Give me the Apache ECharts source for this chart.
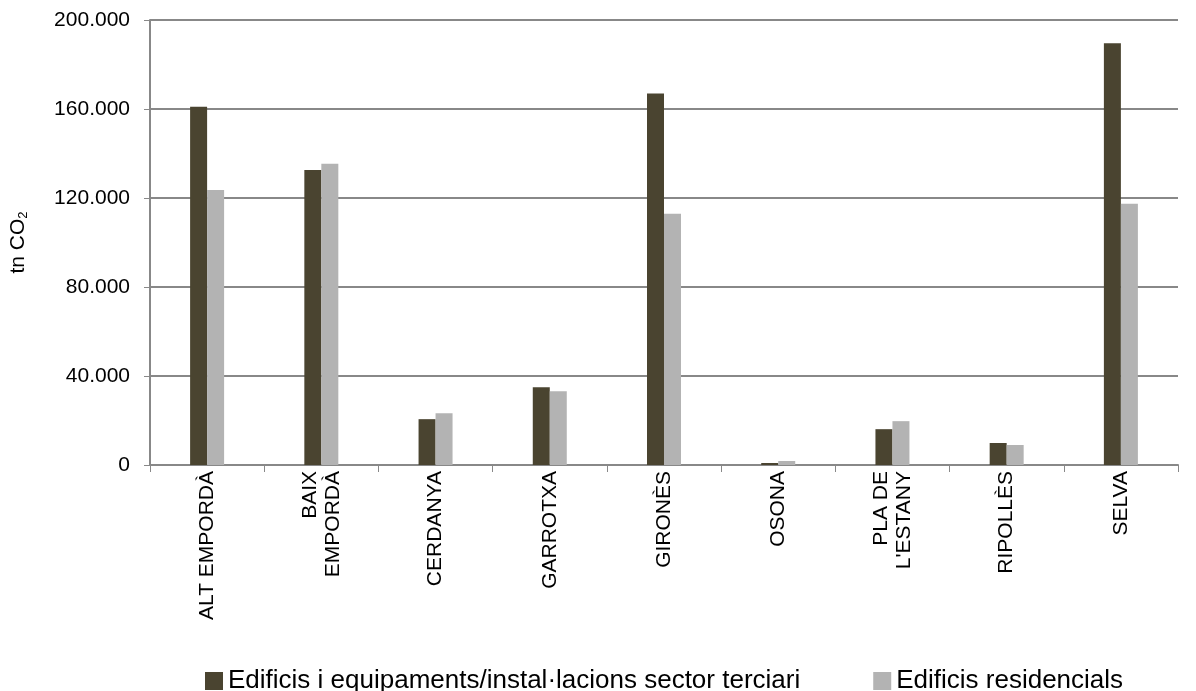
<!DOCTYPE html>
<html><head><meta charset="utf-8">
<script src="https://cdn.jsdelivr.net/npm/echarts@6/dist/echarts.min.js"></script>
<style>html,body{margin:0;padding:0;background:#fff}#c{width:1196px;height:691px}</style>
</head><body><div id="c"></div>
<script>
const categories = ["ALT EMPORDÀ","BAIX\nEMPORDÀ","CERDANYA","GARROTXA","GIRONÈS","OSONA","PLA DE\nL'ESTANY","RIPOLLÈS","SELVA"];
const terciari = [161000,132600,20600,34900,167000,900,16100,9900,189500];
const residencials = [123600,135400,23300,33100,112900,1800,19700,9000,117400];
const yTicks = [0,40000,80000,120000,160000,200000];
const seriesNames = ["Edificis i equipaments/instal·lacions sector terciari","Edificis residencials"];

const chart = echarts.init(document.getElementById('c'));
const font = "'Liberation Sans', Arial, sans-serif";
chart.setOption({
  animation:false,
  grid:{left:143,right:18,top:20,bottom:226,containLabel:false},
  legend:{
    top:663,left:200,itemWidth:18,itemHeight:18,itemGap:73,itemTextGap:5,icon:'rect',
    textStyle:{fontFamily:font,fontSize:26,color:'#000'},
    data:seriesNames
  },
  xAxis:{
    type:'category',data:categories,
    axisLine:{lineStyle:{color:'#888',width:2}},
    axisTick:{show:true,length:7,lineStyle:{color:'#888',width:1}},
    axisLabel:{rotate:90,fontFamily:font,fontSize:21,color:'#000',margin:6,lineHeight:23,interval:0}
  },
  yAxis:{
    type:'value',min:0,max:200000,interval:40000,
    name:'tn CO{sub|2}',nameLocation:'middle',nameGap:120,nameRotate:90,
    nameTextStyle:{fontFamily:font,fontSize:21,color:'#000',rich:{sub:{fontSize:13,verticalAlign:'bottom',padding:[10,0,0,0],fontFamily:font,color:'#000'}}},
    axisLine:{show:true,lineStyle:{color:'#888',width:2}},
    axisTick:{show:true,length:6,lineStyle:{color:'#888'}},
    splitLine:{lineStyle:{color:'#888',width:2}},
    axisLabel:{fontFamily:font,fontSize:21,color:'#000',margin:20,
      formatter:v=>yTicks.includes(v)?(v===0?'0':(v/1000).toFixed(0)+'.000'):''}
  },
  series:[
    {name:seriesNames[0],type:'bar',data:terciari,itemStyle:{color:'#4A4430'},barWidth:17,barGap:'0%'},
    {name:seriesNames[1],type:'bar',data:residencials,itemStyle:{color:'#B3B3B3'},barWidth:17,barGap:'0%'}
  ]
});
</script></body></html>
